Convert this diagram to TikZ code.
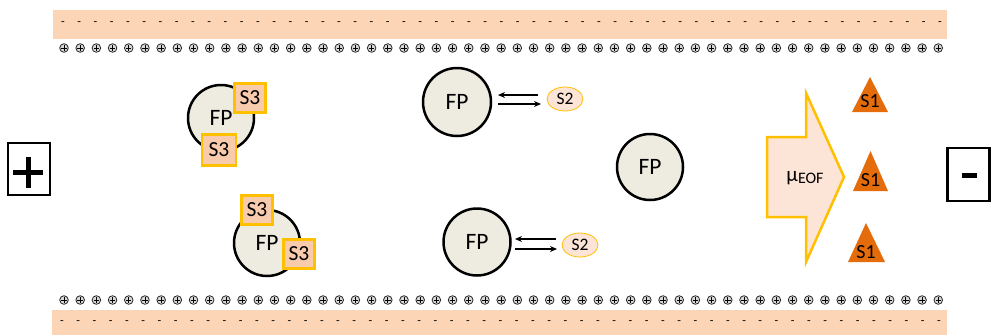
\documentclass[tikz,border=0pt]{standalone}
\usepackage{fontspec}
\setmainfont{Carlito}
\usetikzlibrary{arrows.meta}
\definecolor{band}{HTML}{FBD5B5}
\definecolor{fpfill}{HTML}{EEECE1}
\definecolor{gold}{HTML}{FFC000}
\definecolor{sthree}{HTML}{F8CBAD}
\definecolor{stwo}{HTML}{FCE4D6}
\definecolor{sone}{HTML}{E46C0A}
\tikzset{
  fp/.style={circle,draw=black,line width=2.5pt,fill=fpfill,minimum size=66pt,inner sep=0pt,font=\fontsize{23.5}{26}\selectfont},
  sq/.style={draw=gold,line width=2.5pt,fill=sthree,minimum width=31pt,minimum height=29pt,inner sep=0pt,font=\fontsize{21.5}{24}\selectfont},
  ell/.style={ellipse,draw=gold,line width=0.8pt,fill=stwo,minimum width=36pt,minimum height=24pt,inner sep=0pt,font=\fontsize{17.5}{20}\selectfont},
  elbox/.style={draw=black,line width=2.5pt,fill=white,inner sep=0pt},
  eq/.style={-{Stealth[length=7pt,width=6pt]},line width=1.3pt},
  pc/.style={circle,draw=black!85,fill=black!15,line width=0.8pt,minimum size=8.6pt,inner sep=0pt},
  dashtxt/.style={font=\fontsize{12}{13}\selectfont,inner sep=0pt},
  tri/.style={fill=sone},
  tlabel/.style={font=\fontsize{20}{23}\selectfont,inner sep=0pt}
}
\usetikzlibrary{shapes.geometric}
\begin{document}
\begin{tikzpicture}[x=1pt,y=-1pt]
\useasboundingbox (0,0) rectangle (992,335);
% bands
\fill[band] (53,10) rectangle (947,39);
\fill[band] (52,310) rectangle (947,335);
\foreach \i in {0,...,54}{
  \node[dashtxt] (td\i) at (63+\i*16.24,24) {-};
  \node[dashtxt] (bd\i) at (62+\i*16.24,323) {-};
  \node[pc] (tp\i) at (64+\i*16.19,48) {};
  \draw[line width=0.8pt] (64+\i*16.19-2.7,48) -- (64+\i*16.19+2.7,48) (64+\i*16.19,45.3) -- (64+\i*16.19,50.7);
  \node[pc] (bp\i) at (64+\i*16.19,300) {};
  \draw[line width=0.8pt] (64+\i*16.19-2.7,300) -- (64+\i*16.19+2.7,300) (64+\i*16.19,297.3) -- (64+\i*16.19,302.7);
}
% electrodes
\node[elbox,minimum width=42pt,minimum height=52pt] (plus) at (29,169) {};
\fill (13,169.5) rectangle (43,174.5);
\fill (25.5,157) rectangle (30.5,188);
\node[elbox,minimum width=42pt,minimum height=53pt] (minus) at (968.5,174.5) {};
\fill (962,173) rectangle (977,178);
% FP with S3
\node[fp] (fp1) at (221,118) {FP};
\node[sq] (s3a) at (250,98) {S3};
\node[sq,minimum width=34pt,minimum height=31pt] (s3b) at (219,150) {S3};
\node[fp] (fp2) at (267,243) {FP};
\node[sq] (s3c) at (257,210) {S3};
\node[sq] (s3d) at (299,254) {S3};
% FP with S2
\node[fp,minimum size=68pt] (fp3) at (457,102) {FP};
\node[ell] (s2a) at (565,99) {S2};
\node[fp,minimum size=67pt] (fp4) at (477,242) {FP};
\node[ell] (s2b) at (580,245) {S2};
\coordinate (a1) at (538,95); \coordinate (a2) at (498,95);
\coordinate (a3) at (498,104); \coordinate (a4) at (541,104);
\draw[eq] (a1) -- (a2);
\draw[eq] (a3) -- (a4);
\coordinate (b1) at (556,239); \coordinate (b2) at (515,239);
\coordinate (b3) at (515,249); \coordinate (b4) at (557,249);
\draw[eq] (b1) -- (b2);
\draw[eq] (b3) -- (b4);
\node[fp] (fp5) at (650,167) {FP};
% EOF arrow
\draw[draw=gold,line width=2.5pt,fill=stwo,line join=miter] (767,137) -- (806,137) -- (806,93) -- (844,177) -- (806,262) -- (806,217) -- (767,217) -- cycle;
\node[inner sep=0pt] (eof) at (805,178) {{\fontsize{21}{24}\selectfont μ}{\fontsize{16}{18}\selectfont\raisebox{-2.5pt}{EOF}}};
% S1 triangles
\fill[tri] (852,112) -- (870,77) -- (888,112) -- cycle;
\node[tlabel] (s1a) at (870,101) {S1};
\fill[tri] (853,191) -- (870.5,151) -- (888,191) -- cycle;
\node[tlabel] (s1b) at (870.5,180) {S1};
\fill[tri] (848,262) -- (866,223) -- (885,262) -- cycle;
\node[tlabel] (s1c) at (866,252) {S1};
\end{tikzpicture}
\end{document}
